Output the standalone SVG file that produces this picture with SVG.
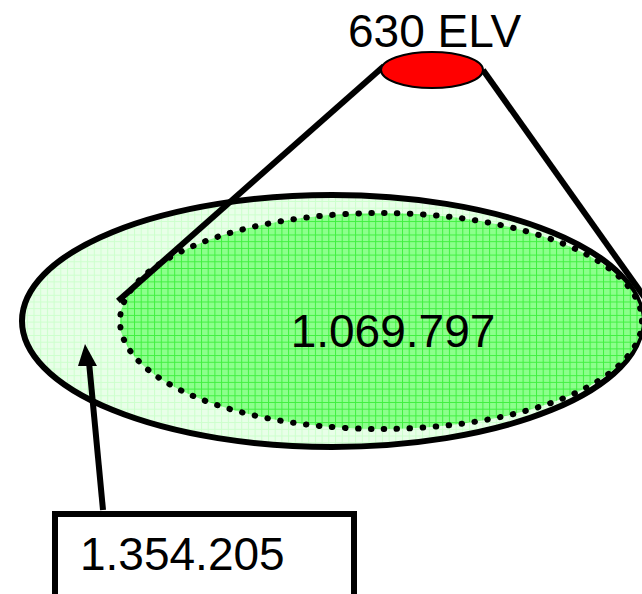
<svg xmlns="http://www.w3.org/2000/svg" width="642" height="594" viewBox="0 0 642 594">
<style>
.lbl{font-family:"Liberation Sans",Arial,sans-serif;font-size:46px;fill:#000}
.ln{stroke:#000;stroke-width:6;fill:none}
</style>
<defs>
<pattern id="pOuter" width="6.7" height="6.7" patternUnits="userSpaceOnUse">
<rect width="6.7" height="6.7" fill="#e8ffe8"/>
<path d="M0 0.5H6.7M0.5 0V6.7" stroke="#ccffcc" stroke-width="1"/>
</pattern>
<pattern id="pInner" width="6.7" height="6.7" patternUnits="userSpaceOnUse">
<rect width="6.7" height="6.7" fill="#8cff8c"/>
<path d="M0 0.5H6.7M0.5 0V6.7" stroke="#40f040" stroke-width="1"/>
</pattern>
</defs>
<g id="outer">
<ellipse cx="332" cy="321" rx="310" ry="126" fill="url(#pOuter)" stroke="#000" stroke-width="6"/>
</g>
<g id="inner">
<ellipse cx="381" cy="321" rx="261" ry="108" fill="url(#pInner)" stroke="#000" stroke-width="6" stroke-dasharray="0.5 12.5" stroke-linecap="round"/>
<text class="lbl" x="393" y="347" text-anchor="middle">1.069.797</text>
</g>
<g id="connectors">
<line class="ln" x1="384" y1="66" x2="118" y2="301"/>
<line class="ln" x1="483" y1="70" x2="645" y2="298"/>
<line class="ln" x1="103" y1="510" x2="89" y2="362"/>
<path d="M85 344L97 366L78 366Z" fill="#000"/>
</g>
<g id="elv">
<ellipse cx="432" cy="70" rx="51" ry="18" fill="#ff0000" stroke="#000" stroke-width="2"/>
<text class="lbl" x="348" y="47">630 ELV</text>
</g>
<g id="box">
<rect x="55" y="514" width="299" height="100" fill="#fff" stroke="#000" stroke-width="6"/>
<text class="lbl" x="80" y="570">1.354.205</text>
</g>
</svg>
